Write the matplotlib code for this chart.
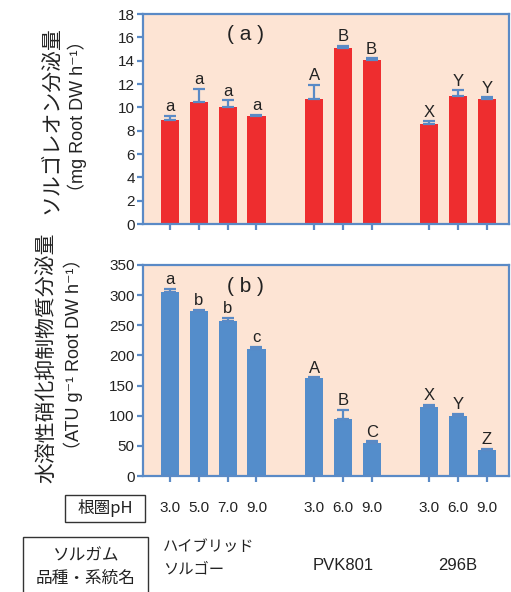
import matplotlib
matplotlib.use("Agg")
import matplotlib.pyplot as plt
from matplotlib.patches import Rectangle
from matplotlib.transforms import blended_transform_factory

# ---- data ----
cultivar_lines = [["ハイブリッド", "ソルゴー"], ["PVK801"], ["296B"]]
ph_levels = [["3.0", "5.0", "7.0", "9.0"], ["3.0", "6.0", "9.0"], ["3.0", "6.0", "9.0"]]

sorgoleone = [8.9, 10.5, 10.0, 9.25, 10.75, 15.05, 14.05, 8.6, 11.0, 10.75]
sorgoleone_err = [0.4, 1.1, 0.6, 0.1, 1.2, 0.25, 0.15, 0.2, 0.45, 0.1]
sorgoleone_sig = ["a", "a", "a", "a", "A", "B", "B", "X", "Y", "Y"]

bni = [305, 273.5, 257, 210.5, 162, 94, 54.5, 114, 99, 43]
bni_err = [5, 2, 5, 3, 1.5, 16, 3, 4.5, 4, 1.5]
bni_sig = ["a", "b", "b", "c", "A", "B", "C", "X", "Y", "Z"]

# ---- style ----
W, H = 511, 592
BG = "#FDE4D4"
RED = "#EE2D2F"
BLUE = "#548DCB"
AXIS = "#5A8AC6"
TXT = "#222222"
LAT = ["Liberation Sans", "Noto Sans CJK JP", "DejaVu Sans"]
JP = ["Noto Sans CJK JP", "DejaVu Sans"]

plt.rcParams["font.family"] = LAT

fig = plt.figure(figsize=(W / 100, H / 100), dpi=100)


def fx(x):
    return x / W


def fy(y):
    return 1 - y / H


# bar positions: one empty slot between cultivar groups
xpos, group_pos = [], []
start = 0
for g in ph_levels:
    idx = list(range(start, start + len(g)))
    xpos.extend(idx)
    group_pos.append(idx)
    start += len(g) + 1

left_px, right_px = 143, 509
ax_a = fig.add_axes([fx(left_px), fy(224), fx(right_px - left_px), (224 - 14) / H])
ax_b = fig.add_axes([fx(left_px), fy(476), fx(right_px - left_px), (476 - 265) / H])


def draw_panel(ax, vals, errs, sig, color, ymax, ystep, tag, sig_off):
    ax.set_facecolor(BG)
    ax.bar(xpos, vals, width=0.63, color=color, zorder=2)
    ax.errorbar(xpos, vals, yerr=[[0] * len(errs), errs], fmt="none",
                ecolor=AXIS, elinewidth=1.6, capsize=4, capthick=1.6, zorder=3)
    for x, v, e, s in zip(xpos, vals, errs, sig):
        ax.text(x, v + e + sig_off, s, ha="center", va="bottom",
                fontsize=12, color=TXT, zorder=4)
    ax.set_xlim(-0.94, 11.77)
    ax.set_ylim(0, ymax)
    ax.set_yticks(range(0, ymax + 1, ystep))
    ax.set_xticks(xpos)
    ax.set_xticklabels([])
    for sp in ax.spines.values():
        sp.set_color(AXIS)
        sp.set_linewidth(1.6)
    ax.tick_params(axis="both", direction="out", color=AXIS, width=1.6,
                   length=4, labelsize=11, labelcolor=TXT, pad=2)
    ax.text(0.28, 0.90, tag, transform=ax.transAxes, ha="center",
            va="center", fontsize=15, color=TXT)


draw_panel(ax_a, sorgoleone, sorgoleone_err, sorgoleone_sig, RED, 18, 2,
           "( a )", 0.15)
draw_panel(ax_b, bni, bni_err, bni_sig, BLUE, 350, 50, "( b )", 3)

# y-axis titles
fig.text(fx(51), fy(120), "ソルゴレオン分泌量", rotation=90, ha="center",
         va="center", fontsize=15, family=JP, color=TXT)
fig.text(fx(77), fy(116), "（mg Root DW h⁻¹）", rotation=90, ha="center",
         va="center", fontsize=13, family=LAT, color=TXT)
fig.text(fx(46), fy(358), "水溶性硝化抑制物質分泌量", rotation=90, ha="center",
         va="center", fontsize=15, family=JP, color=TXT)
fig.text(fx(73), fy(354), "（ATU g⁻¹ Root DW h⁻¹）", rotation=90, ha="center",
         va="center", fontsize=13, family=LAT, color=TXT)

# rhizosphere pH row and cultivar row beneath panel (b)
tr = blended_transform_factory(ax_b.transData, fig.transFigure)
for idx, labels in zip(group_pos, ph_levels):
    for x, lab in zip(idx, labels):
        ax_b.text(x, fy(508), lab, transform=tr, ha="center", va="center",
                  fontsize=11, color=TXT, clip_on=False)

hyb = cultivar_lines[0]
ax_b.text(group_pos[0][0] - 0.24, fy(546), hyb[0], transform=tr, ha="left",
          va="center", fontsize=11, family=JP, color=TXT, clip_on=False)
ax_b.text(group_pos[0][0] - 0.24, fy(569), hyb[1], transform=tr, ha="left",
          va="center", fontsize=11, family=JP, color=TXT, clip_on=False)
for idx, lines in zip(group_pos[1:], cultivar_lines[1:]):
    cx = (idx[0] + idx[-1]) / 2
    ax_b.text(cx, fy(565), lines[0], transform=tr, ha="center", va="center",
              fontsize=12, color=TXT, clip_on=False)

# boxed row headers
fig.patches.append(Rectangle((fx(65), fy(522)), fx(145 - 65), (522 - 495) / H,
                             transform=fig.transFigure, fill=False,
                             edgecolor="#333333", linewidth=1.0))
fig.patches.append(Rectangle((fx(23), fy(600)), fx(148 - 23), (600 - 537) / H,
                             transform=fig.transFigure, fill=False,
                             edgecolor="#333333", linewidth=1.0))
fig.text(fx(105), fy(508), "根圏pH", ha="center", va="center", fontsize=12,
         family=JP, color=TXT)
fig.text(fx(86), fy(556), "ソルガム", ha="center", va="center", fontsize=12,
         family=JP, color=TXT)
fig.text(fx(86), fy(578), "品種・系統名", ha="center", va="center",
         fontsize=12, family=JP, color=TXT)

fig.savefig("out.png", dpi=100, facecolor="white")
